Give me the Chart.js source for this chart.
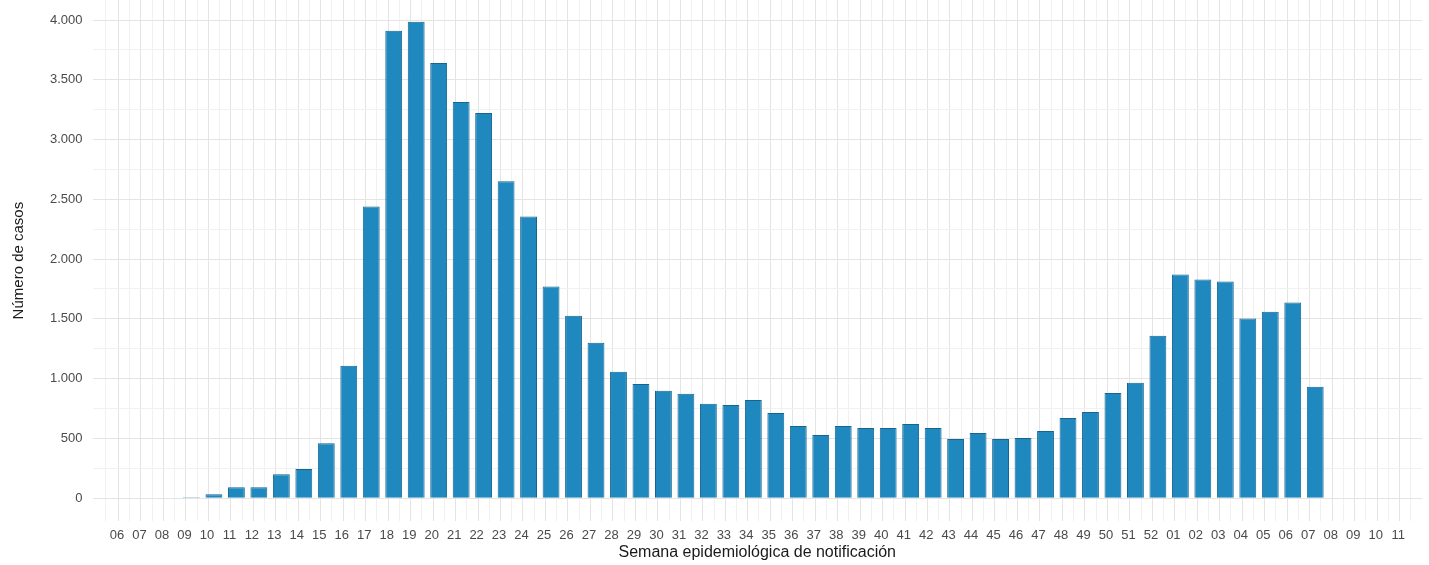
<!DOCTYPE html>
<html>
<head>
<meta charset="utf-8">
<script src="https://cdn.jsdelivr.net/npm/chart.js@4/dist/chart.umd.min.js"></script>
<style>
  html, body { margin: 0; padding: 0; background: #ffffff; }
  #wrap { width: 1429px; height: 565px; position: relative; }
</style>
</head>
<body>
<div id="wrap"><canvas id="c" width="1429" height="565"></canvas></div>
<script>
const weeks = ["06","07","08","09","10","11","12","13","14","15","16","17","18","19","20","21","22","23","24","25","26","27","28","29","30","31","32","33","34","35","36","37","38","39","40","41","42","43","44","45","46","47","48","49","50","51","52","01","02","03","04","05","06","07","08","09","10","11"];
const cases = [0,0,3,8,32,92,92,200,243,460,1107,2440,3910,3985,3640,3314,3222,2651,2357,1770,1527,1300,1057,956,898,873,789,780,822,713,604,528,604,587,587,621,587,495,545,495,503,562,671,721,880,965,1359,1871,1829,1812,1502,1560,1636,931,0,0,0,0];
const yTickValues = [0,500,1000,1500,2000,2500,3000,3500,4000];

const points = cases.map((v, i) => ({ x: i, y: v }));

const fmt = v => v.toLocaleString('de-DE');

new Chart(document.getElementById('c'), {
  type: 'bar',
  data: {
    datasets: [{
      data: points,
      backgroundColor: '#1f88bf',
      borderColor: '#15658f',
      borderWidth: 1,
      borderSkipped: 'start',
      categoryPercentage: 1,
      barPercentage: 1.5
    }]
  },
  options: {
    responsive: false,
    animation: false,
    layout: { padding: { left: 10, right: 7, top: 0, bottom: 3 } },
    plugins: { legend: { display: false }, tooltip: { enabled: false } },
    scales: {
      x: {
        type: 'linear',
        min: -1.15,
        max: 57.5,
        border: { display: false },
        grid: {
          drawTicks: false,
          lineWidth: 1,
          color: ctx => {
            const v = ctx.tick ? ctx.tick.value : null;
            if (v === null) return 'rgba(0,0,0,0)';
            if (Number.isInteger(v)) return '#e4e4e4';
            if (Math.abs(v * 2 - Math.round(v * 2)) < 1e-6) return '#f1f1f1';
            return 'rgba(0,0,0,0)';
          }
        },
        ticks: {
          stepSize: 0.5,
          autoSkip: false,
          maxRotation: 0,
          minRotation: 0,
          padding: 6,
          labelOffset: -7,
          color: '#4a4a4a',
          font: { family: 'Liberation Sans, Arial, sans-serif', size: 13 },
          callback: v => Number.isInteger(v) && v >= 0 && v < weeks.length ? weeks[v] : ''
        },
        title: {
          display: true,
          text: 'Semana epidemiológica de notificación',
          color: '#1a1a1a',
          font: { family: 'Liberation Sans, Arial, sans-serif', size: 16 },
          padding: { top: -6, bottom: 0 }
        }
      },
      y: {
        min: -193,
        max: 4168,
        border: { display: false },
        afterFit: scale => { scale.paddingTop = 0; },
        grid: {
          drawTicks: false,
          lineWidth: 1,
          color: ctx => {
            const v = ctx.tick ? ctx.tick.value : null;
            if (v === null) return 'rgba(0,0,0,0)';
            if (yTickValues.includes(v)) return '#e4e4e4';
            if (v % 250 === 0) return '#f1f1f1';
            return 'rgba(0,0,0,0)';
          }
        },
        ticks: {
          stepSize: 250,
          padding: 10,
          color: '#4a4a4a',
          font: { family: 'Liberation Sans, Arial, sans-serif', size: 13 },
          callback: v => yTickValues.includes(v) ? fmt(v) : ''
        },
        title: {
          display: true,
          text: 'Número de casos',
          color: '#1a1a1a',
          font: { family: 'Liberation Sans, Arial, sans-serif', size: 15 },
          padding: { top: 0, bottom: 12 }
        }
      }
    }
  }
});
</script>
</body>
</html>
